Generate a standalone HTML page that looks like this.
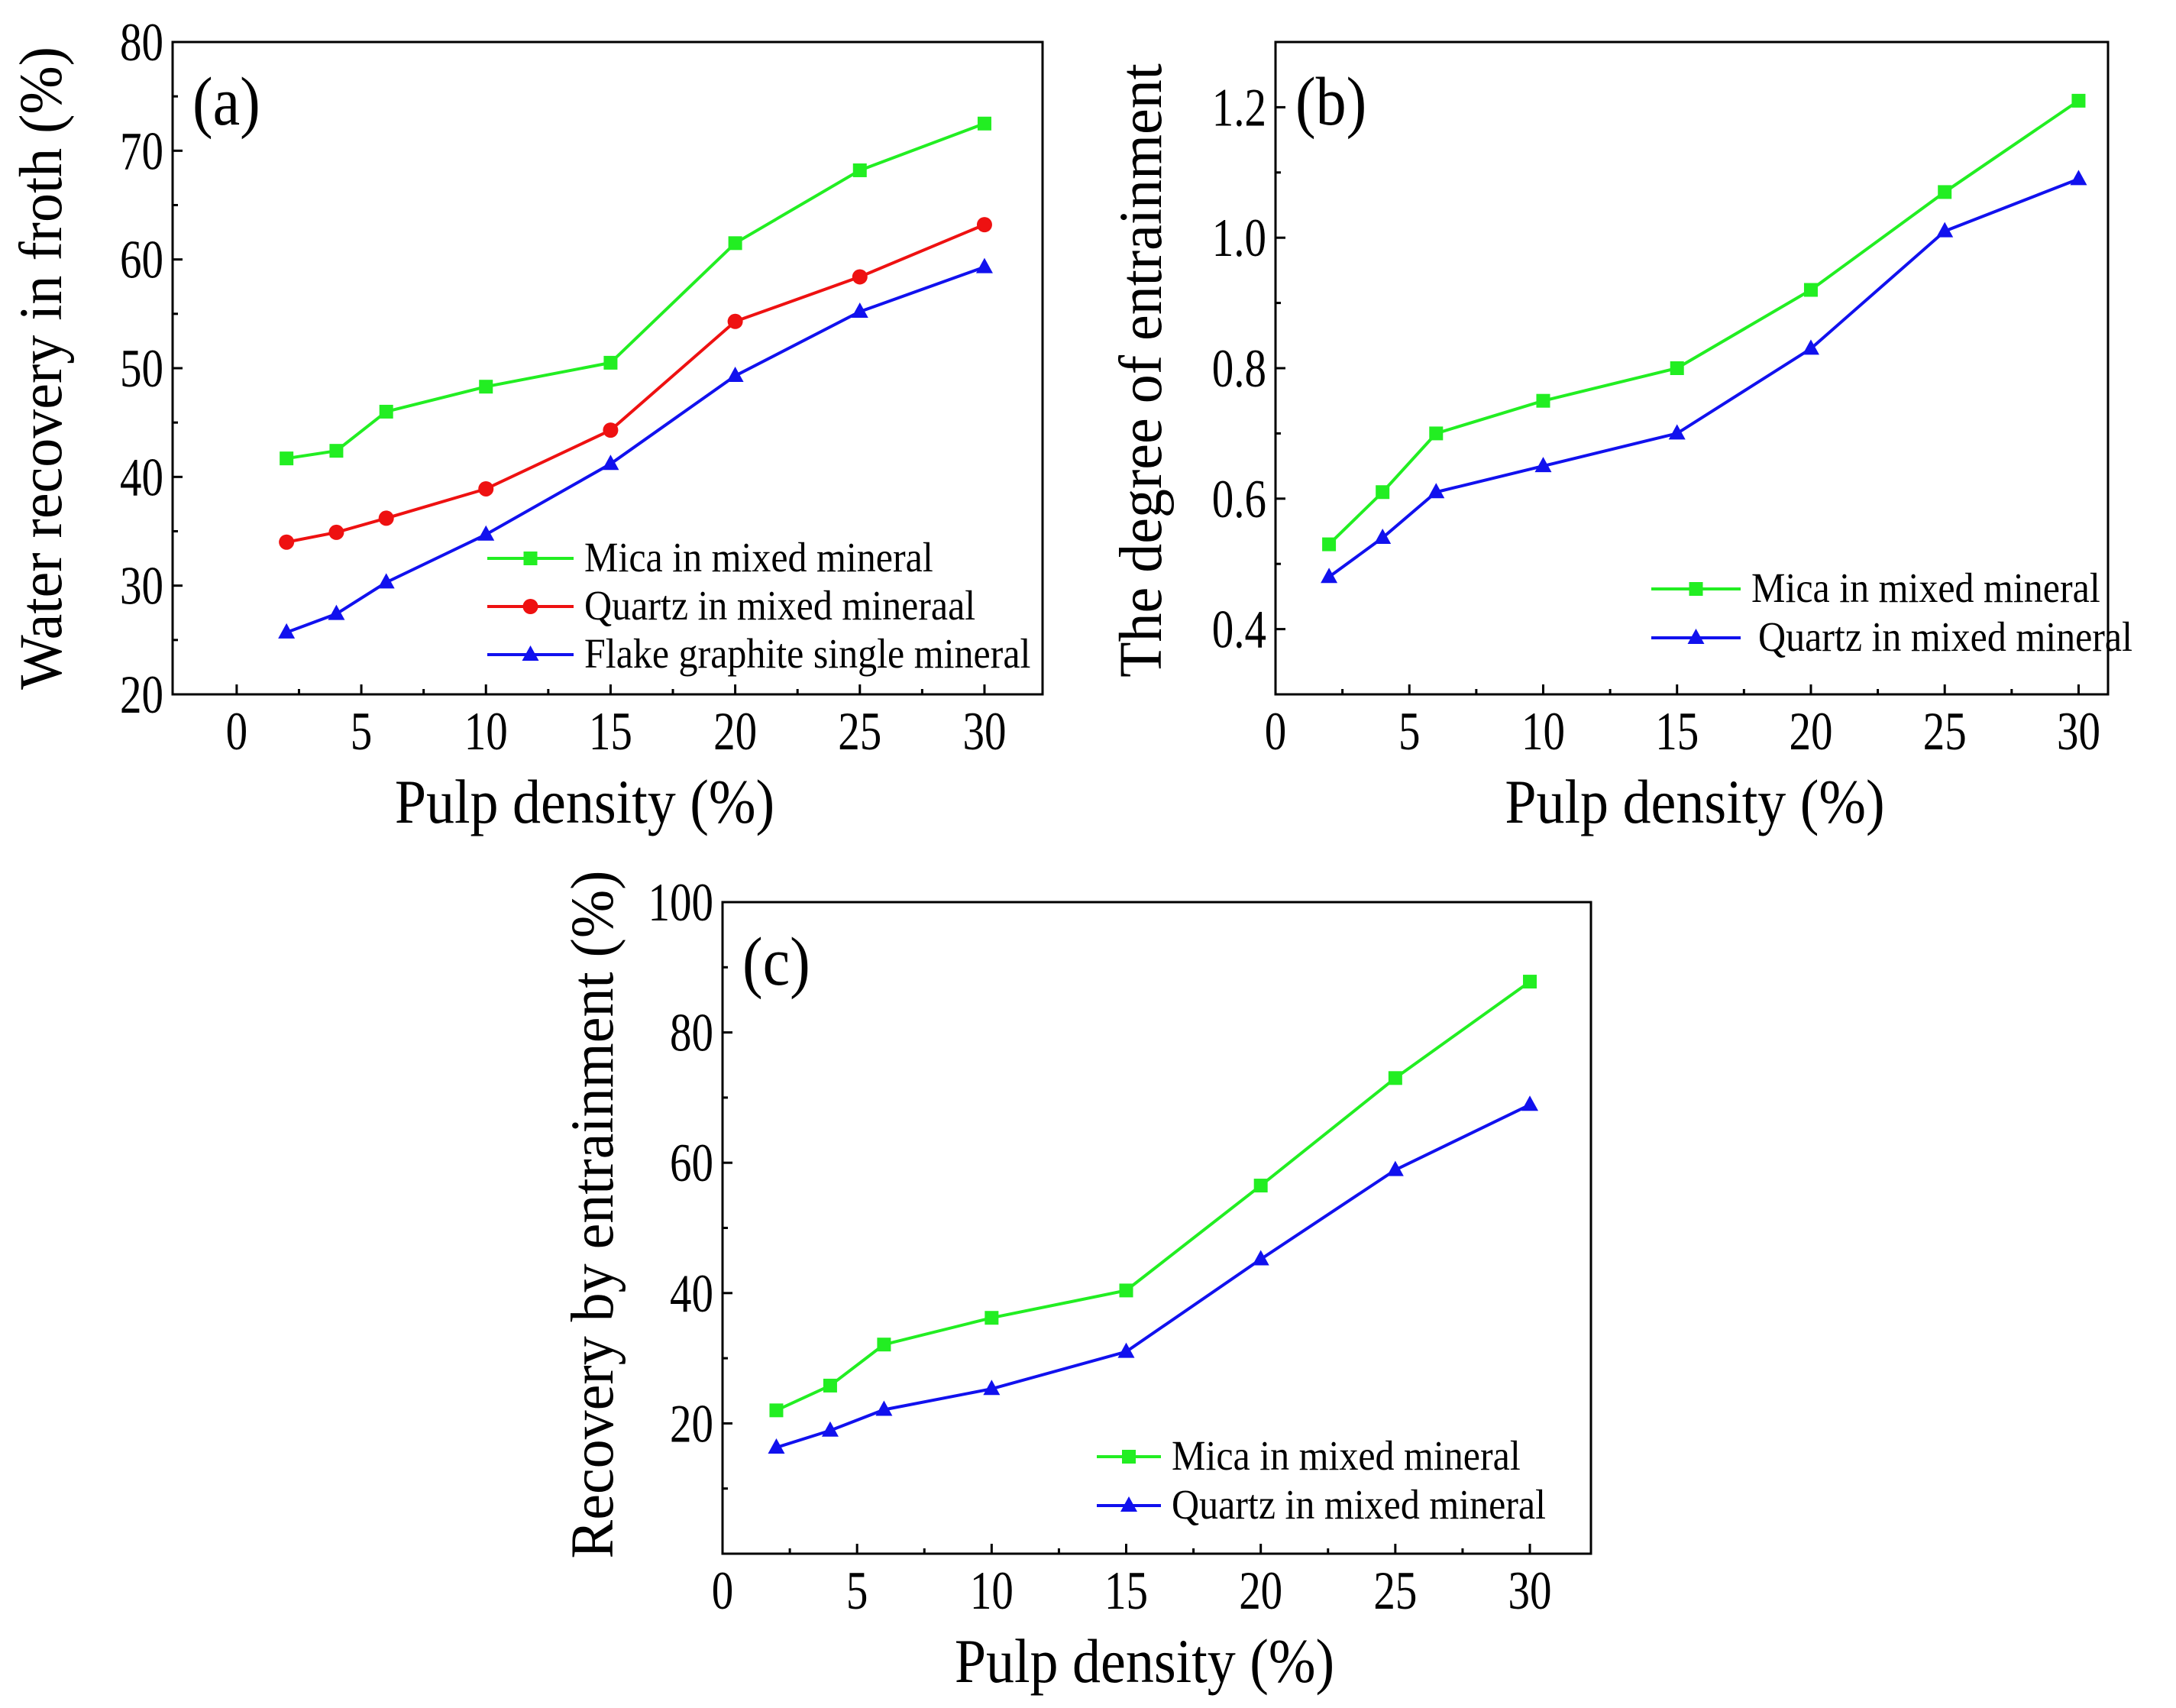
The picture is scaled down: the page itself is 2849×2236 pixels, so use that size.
<!DOCTYPE html>
<html><head><meta charset="utf-8"><style>
html,body{margin:0;padding:0;background:#fff;}
svg{display:block;font-family:"Liberation Serif",serif;}
</style></head><body>
<svg id="fig" width="2849" height="2236" viewBox="0 0 2849 2236" xmlns="http://www.w3.org/2000/svg"></svg>
<script>
const xValues = [2,4,6,10,15,20,25,30];
const aMica = [41.7,42.4,46.0,48.3,50.5,61.5,68.2,72.5];
const aQuartz = [34.0,34.9,36.2,38.9,44.3,54.3,58.4,63.2];
const aFlake = [25.7,27.4,30.3,34.7,41.2,49.3,55.2,59.3];
const bMica = [0.53,0.61,0.70,0.75,0.80,0.92,1.07,1.21];
const bQuartz = [0.48,0.54,0.61,0.65,0.70,0.83,1.01,1.09];
const cMica = [22.0,25.8,32.1,36.2,40.4,56.5,73.0,87.8];
const cQuartz = [16.3,18.9,22.1,25.3,31.0,45.2,58.9,68.9];
const xTickLabels = ["0","5","10","15","20","25","30"];
const aYTickLabels = ["20","30","40","50","60","70","80"];
const bYTickLabels = ["0.4","0.6","0.8","1.0","1.2"];
const cYTickLabels = ["20","40","60","80","100"];

const NS="http://www.w3.org/2000/svg";
const svg=document.getElementById('fig');
function mk(tag,attrs,parent,text){const e=document.createElementNS(NS,tag);for(const k in attrs)e.setAttribute(k,attrs[k]);if(text!==undefined)e.textContent=text;(parent||svg).appendChild(e);return e;}

function marker(g,type,x,y,color){
  let m;
  if(type==='square'){m=mk('rect',{x:x-9,y:y-9,width:18,height:18,fill:color},g);}
  else if(type==='circle'){m=mk('circle',{cx:x,cy:y,r:10,fill:color},g);}
  else {m=mk('polygon',{points:`${x},${y-12} ${x+11},${y+8} ${x-11},${y+8}`,fill:color},g);}
  return m;
}

function panel(cfg){
  const g=mk('g',{});
  
  
  const sx=v=>cfg.L+(v-cfg.x0)/(cfg.x1-cfg.x0)*(cfg.R-cfg.L);
  const sy=v=>cfg.B-(v-cfg.y0)/(cfg.y1-cfg.y0)*(cfg.B-cfg.T);
  const box=mk('rect',{x:cfg.L,y:cfg.T,width:cfg.R-cfg.L,height:cfg.B-cfg.T,fill:'none',stroke:'#000','stroke-width':3},g);
  
  
  for(let v=0;v<=32.5;v+=2.5){
    if(v<cfg.x0||v>cfg.x1)continue;
    const major=(v%5===0);const X=sx(v);
    mk('line',{x1:X,x2:X,y1:cfg.B,y2:cfg.B-(major?13:7),stroke:'#000','stroke-width':3},g);
  }
  xTickLabels.forEach(t=>{
    const e=mk('text',{x:0,y:0,'font-size':60,'text-anchor':'middle',transform:`translate(${sx(+t)},${cfg.B+72}) scale(0.95,1.18)`},g,t);
    
    
  });
  for(let v=cfg.y0;v<=cfg.y1+1e-9;v+=cfg.minor){
    const major=(Math.abs(v/cfg.major-Math.round(v/cfg.major))<1e-6);
    const Y=sy(v);
    mk('line',{x1:cfg.L,x2:cfg.L+(major?13:7),y1:Y,y2:Y,stroke:'#000','stroke-width':3},g);
  }
  cfg.yLabels.forEach(t=>{
    const e=mk('text',{x:0,y:0,'font-size':60,'text-anchor':'end',transform:`translate(${cfg.L-12},${sy(+t)+24}) scale(0.95,1.18)`},g,t);
    
    
  });
  const xt=mk('text',{x:0,y:0,'font-size':74,'text-anchor':'middle',transform:`translate(${(cfg.L+cfg.R)/2+cfg.xtdx},${cfg.B+168}) scale(1,1.1)`},g,'Pulp density (%)');
  
  
  const yt=mk('text',{x:0,y:0,'font-size':76,'text-anchor':'middle',transform:`translate(${cfg.ytx},${cfg.yty}) rotate(-90) scale(1,1.05)`},g,cfg.ytitle);
  
  
  const pl=mk('text',{x:0,y:0,'font-size':80,transform:`translate(${cfg.L+26},${cfg.T+108}) scale(1,1.12)`},g,cfg.label);
  
  
  cfg.series.forEach((s,i)=>{
    const sg=mk('g',{},g);
    
    
    const pts=xValues.map((x,j)=>sx(x)+','+sy(s.data[j])).join(' ');
    mk('polyline',{points:pts,fill:'none',stroke:s.color,'stroke-width':4},sg);
    xValues.forEach((x,j)=>{const m=marker(sg,s.marker,sx(x),sy(s.data[j]),s.color);
      
      });
    const lg=mk('g',{},g);
    
    
    const ly=cfg.legY+i*cfg.legDy;
    mk('line',{x1:cfg.legX,x2:cfg.legX+cfg.legW,y1:ly,y2:ly,stroke:s.color,'stroke-width':4},lg);
    marker(lg,s.marker,cfg.legX+cfg.legW/2,ly,s.color);
    mk('text',{x:0,y:0,'font-size':50,transform:`translate(${cfg.legX+cfg.legW+14+(s.tdx||0)},${ly+17}) scale(1,1.1)`},lg,s.label);
  });
}

panel({name:'panel-a',label:'(a)',L:226,R:1365,T:55,B:909,x0:-2.57,x1:32.33,y0:20,y1:80,major:10,minor:5,yLabels:aYTickLabels,xtdx:-30,
  ytitle:'Water recovery in froth (%)',ytx:80,yty:482,legX:638,legW:113,legY:731,legDy:63,
  series:[{key:'mica',data:aMica,color:'#22ee22',marker:'square',label:'Mica in mixed mineral'},
          {key:'quartz',data:aQuartz,color:'#ee1111',marker:'circle',label:'Quartz in mixed mineraal'},
          {key:'flake',data:aFlake,color:'#1111ee',marker:'triangle',label:'Flake graphite single mineral'}]});
panel({name:'panel-b',label:'(b)',L:1670,R:2760,T:55,B:909,x0:0,x1:31.1,y0:0.3,y1:1.3,major:0.2,minor:0.1,yLabels:bYTickLabels,xtdx:4,
  ytitle:'The degree of entrainment',ytx:1520,yty:485,legX:2162,legW:117,legY:771,legDy:64,
  series:[{key:'mica',data:bMica,color:'#22ee22',marker:'square',label:'Mica in mixed mineral'},
          {key:'quartz',data:bQuartz,color:'#1111ee',marker:'triangle',label:'Quartz in mixed mineral',tdx:9}]});
panel({name:'panel-c',label:'(c)',L:946,R:2083,T:1181,B:2034,x0:0,x1:32.27,y0:0,y1:100,major:20,minor:10,yLabels:cYTickLabels,xtdx:-16,
  ytitle:'Recovery by entrainment (%)',ytx:802,yty:1590,legX:1436,legW:84,legY:1907,legDy:64,
  series:[{key:'mica',data:cMica,color:'#22ee22',marker:'square',label:'Mica in mixed mineral'},
          {key:'quartz',data:cQuartz,color:'#1111ee',marker:'triangle',label:'Quartz in mixed mineral'}]});
</script>
</body></html>
